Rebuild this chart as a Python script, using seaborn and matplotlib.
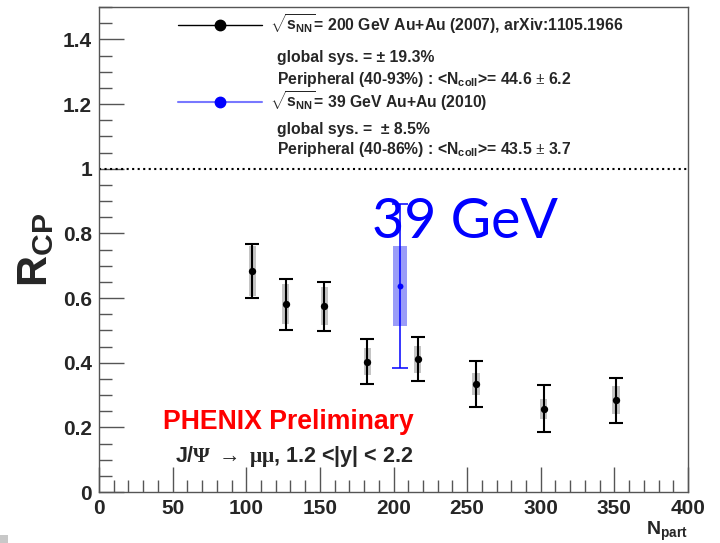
import matplotlib
matplotlib.use("Agg")
import matplotlib.pyplot as plt
from matplotlib.lines import Line2D
from matplotlib.patches import Rectangle
from matplotlib.ticker import MultipleLocator, FuncFormatter
import seaborn as sns

# J/psi R_CP vs N_part, Au+Au at 200 GeV (2007) and 39 GeV (2010)
npart_200 = [104.1, 126.8, 153.0, 182.2, 216.4, 256.0, 302.0, 351.1]
rcp_200 = [0.683, 0.581, 0.574, 0.403, 0.411, 0.334, 0.258, 0.284]
stat_200 = [0.083, 0.079, 0.076, 0.069, 0.068, 0.071, 0.073, 0.070]
sys_200 = [0.077, 0.062, 0.059, 0.041, 0.042, 0.035, 0.031, 0.043]

npart_39 = [204.4]
rcp_39 = [0.637]
stat_39 = [0.255]
sys_39 = [0.124]

xticks = [0, 50, 100, 150, 200, 250, 300, 350, 400]
yticks = [0, 0.2, 0.4, 0.6, 0.8, 1.0, 1.2, 1.4]

sns.set_style("ticks")
plt.rcParams["font.family"] = ["Liberation Sans", "DejaVu Sans"]
plt.rcParams["font.weight"] = "bold"
plt.rcParams["mathtext.fontset"] = "custom"
plt.rcParams["mathtext.rm"] = "Liberation Serif"
plt.rcParams["mathtext.it"] = "Liberation Serif:italic"
plt.rcParams["mathtext.bf"] = "Liberation Sans:bold"
plt.rcParams["mathtext.sf"] = "Liberation Sans:bold"

axis_col = "#555555"
gray_box = "#c4c4c4"
blue_box = "#9a9cf8"
blue = "#0000ff"

fig = plt.figure(figsize=(7.2, 5.43), dpi=100)
ax = fig.add_axes([0.1375, 0.0939, 0.8181, 0.8932])

# systematic boxes
ax.bar(npart_200, [2 * s for s in sys_200],
       bottom=[y - s for y, s in zip(rcp_200, sys_200)],
       width=4.8, color=gray_box, linewidth=0, zorder=1)
ax.bar(npart_39, [2 * s for s in sys_39],
       bottom=[y - s for y, s in zip(rcp_39, sys_39)],
       width=9.0, color=blue_box, linewidth=0, zorder=1)

# statistical error bars
ax.errorbar(npart_200, rcp_200, yerr=stat_200, fmt="none", ecolor="black",
            elinewidth=1.5, capsize=5.3, capthick=1.5, zorder=2)
ax.errorbar(npart_39, rcp_39, yerr=stat_39, fmt="none", ecolor=blue,
            elinewidth=1.1, capsize=5.5, capthick=1.1, zorder=2)

# data points
sns.scatterplot(x=npart_200, y=rcp_200, ax=ax, color="black", s=28,
                linewidth=0, zorder=3)
sns.scatterplot(x=npart_39, y=rcp_39, ax=ax, color=blue, s=18,
                linewidth=0, zorder=3)

ax.axhline(1.0, color="black", linestyle=":", linewidth=1.5, zorder=2)

ax.set_xlim(0, 400)
ax.set_ylim(0, 1.5)
ax.set_xticks(xticks)
ax.set_yticks(yticks)
ax.xaxis.set_minor_locator(MultipleLocator(10))
ax.yaxis.set_minor_locator(MultipleLocator(0.05))
fmt = FuncFormatter(lambda v, p: "%g" % v)
ax.xaxis.set_major_formatter(fmt)
ax.yaxis.set_major_formatter(fmt)
ax.tick_params(which="both", direction="in", color=axis_col, width=1.0,
               top=False, right=False)
ax.tick_params(which="major", length=18, labelsize=15)
ax.tick_params(which="minor", length=9)
ax.tick_params(axis="y", which="major", pad=5)
ax.tick_params(axis="x", which="major", pad=5)
for sp in ax.spines.values():
    sp.set_visible(True)
    sp.set_color(axis_col)
    sp.set_linewidth(1.0)

tr = ax.transAxes
ax.set_ylabel(r"$\mathbf{R_{CP}}$", fontsize=31)
ax.yaxis.set_label_coords(-0.073, 0.50)
ax.text(1.0, -0.0887, r"$\mathbf{N_{part}}$", transform=tr, fontsize=14,
        ha="right", va="baseline")

# legend entries
ax.add_line(Line2D([0.134, 0.277], [0.963, 0.963], transform=tr,
                   color="black", linewidth=1.0))
ax.add_line(Line2D([0.2054], [0.963], transform=tr, marker="o",
                   markersize=7.5, color="black", linestyle="none"))
ax.add_line(Line2D([0.134, 0.277], [0.804, 0.804], transform=tr,
                   color="#7878ff", linewidth=1.5))
ax.add_line(Line2D([0.2054], [0.804], transform=tr, marker="o",
                   markersize=7.5, color=blue, linestyle="none"))

tx0 = 0.291
tx = 0.302
lsize = 11.3
ax.text(tx0, 0.950, r"$\sqrt{\mathbf{s_{NN}}}$= 200 GeV Au+Au (2007), arXiv:1105.1966",
        transform=tr, fontsize=lsize, va="baseline")
ax.text(tx, 0.886, "global sys. = \u00b1 19.3%", transform=tr,
        fontsize=lsize, va="baseline")
ax.text(tx, 0.841, r"Peripheral (40-93%) : <$\mathbf{N_{coll}}$>= 44.6 $\pm$ 6.2",
        transform=tr, fontsize=lsize, va="baseline")
ax.text(tx0, 0.791, r"$\sqrt{\mathbf{s_{NN}}}$= 39 GeV Au+Au (2010)",
        transform=tr, fontsize=lsize, va="baseline")
ax.text(tx, 0.738, "global sys. =  \u00b1 8.5%", transform=tr,
        fontsize=lsize, va="baseline")
ax.text(tx, 0.697, r"Peripheral (40-86%) : <$\mathbf{N_{coll}}$>= 43.5 $\pm$ 3.7",
        transform=tr, fontsize=lsize, va="baseline")

ax.text(0.1087, 0.130, "PHENIX Preliminary", transform=tr, color="#ff0000",
        fontsize=19.2, va="baseline")
ax.text(0.129, 0.062,
        r"J/$\mathrm{\Psi}\ \rightarrow\ \mathrm{\mu\mu}$, 1.2 <|y| < 2.2",
        transform=tr, fontsize=15.5, va="baseline")

ax.text(185.4, 0.785, "39 GeV", color=blue, fontsize=40, fontweight="normal",
        family="Lato", va="baseline")

fig.patches.append(Rectangle((0, 0), 8 / 720, 8 / 543, transform=fig.transFigure,
                             facecolor="#c8c8c8", edgecolor="none"))

fig.savefig("out.png", dpi=100)
